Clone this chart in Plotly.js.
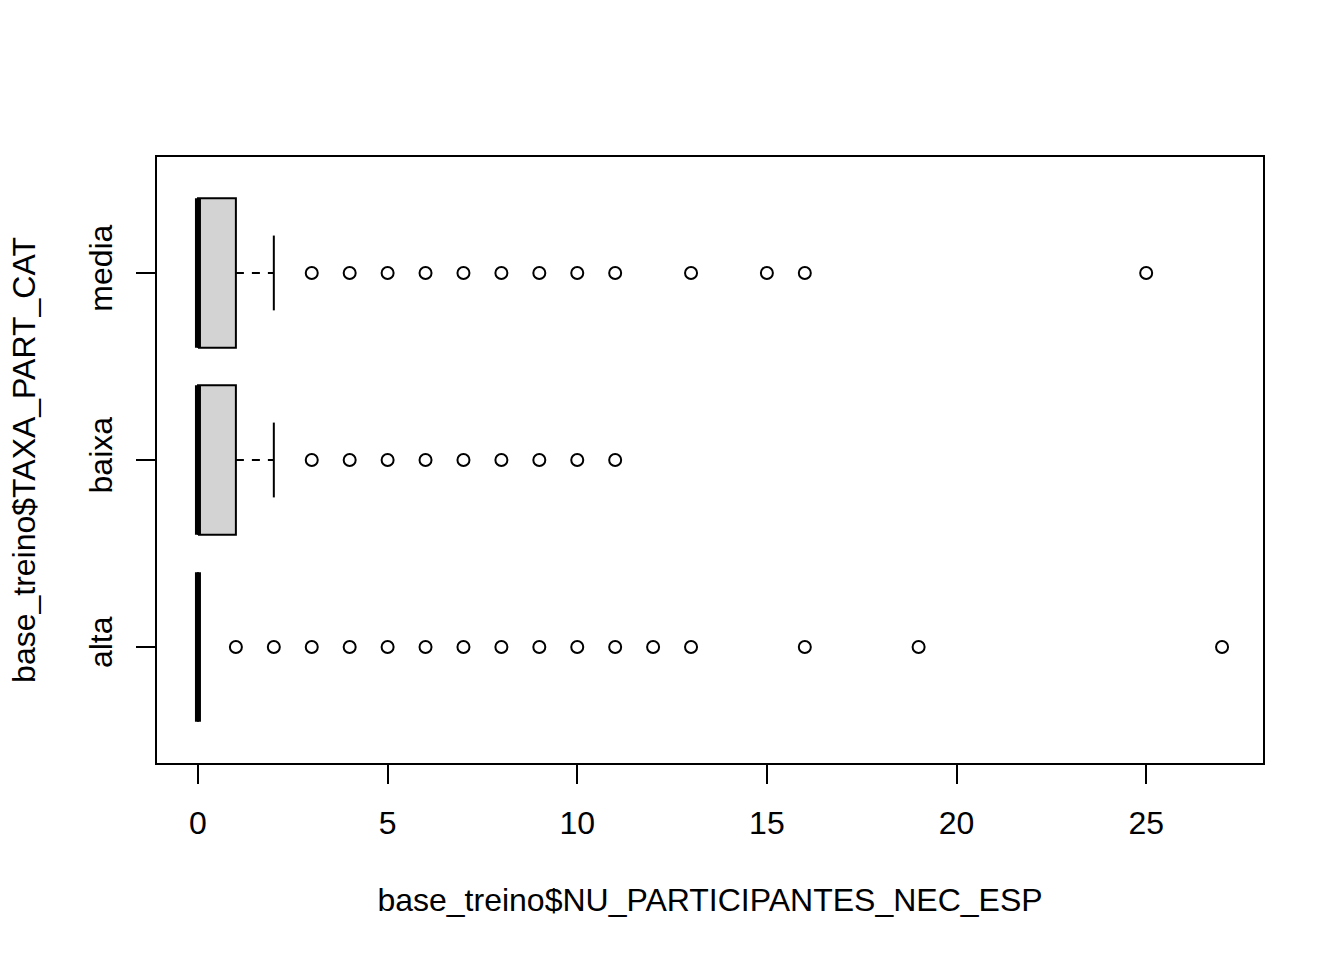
<!DOCTYPE html>
<html>
<head>
<meta charset="utf-8">
<script src="https://cdn.plot.ly/plotly-3.0.1.min.js"></script>
<style>html,body{margin:0;padding:0;background:#fff;}#chart{width:1344px;height:960px;}</style>
</head>
<body>
<div id="chart"></div>
<script>
// ---- data ----
var categories = ["alta", "baixa", "media"];
var q1 = [0, 0, 0];
var medians = [0, 0, 0];
var q3 = [0, 1, 1];
var whiskerLow = [0, 0, 0];
var whiskerHigh = [0, 2, 2];
var outliersAlta = [1, 2, 3, 4, 5, 6, 7, 8, 9, 10, 11, 12, 13, 16, 19, 27];
var outliersBaixa = [3, 4, 5, 6, 7, 8, 9, 10, 11];
var outliersMedia = [3, 4, 5, 6, 7, 8, 9, 10, 11, 13, 15, 16, 25];
var outliers = [outliersAlta, outliersBaixa, outliersMedia];
var xTicks = [0, 5, 10, 15, 20, 25];
var xTitle = "base_treino$NU_PARTICIPANTES_NEC_ESP";
var yTitle = "base_treino$TAXA_PART_CAT";

// ---- build traces ----
var halfW = 0.4, staple = 0.2;
var traces = [];
categories.forEach(function (c, k) {
  var p = k + 1;
  // box
  traces.push({type: "scatter", mode: "lines", x: [q1[k], q3[k], q3[k], q1[k], q1[k]],
    y: [p - halfW, p - halfW, p + halfW, p + halfW, p - halfW], fill: "toself",
    fillcolor: "#D3D3D3", line: {color: "black", width: 2}, hoverinfo: "skip"});
  // whiskers (dashed)
  traces.push({type: "scatter", mode: "lines", x: [q3[k], whiskerHigh[k]], y: [p, p],
    line: {color: "black", width: 2, dash: "8px,8px"}, hoverinfo: "skip"});
  traces.push({type: "scatter", mode: "lines", x: [q1[k], whiskerLow[k]], y: [p, p],
    line: {color: "black", width: 2, dash: "8px,8px"}, hoverinfo: "skip"});
  // staples
  traces.push({type: "scatter", mode: "lines", x: [whiskerHigh[k], whiskerHigh[k]], y: [p - staple, p + staple],
    line: {color: "black", width: 2}, hoverinfo: "skip"});
  traces.push({type: "scatter", mode: "lines", x: [whiskerLow[k], whiskerLow[k]], y: [p - staple, p + staple],
    line: {color: "black", width: 2}, hoverinfo: "skip"});
  // median
  traces.push({type: "scatter", mode: "lines", x: [medians[k], medians[k]], y: [p - halfW, p + halfW],
    line: {color: "black", width: 6}, hoverinfo: "skip"});
  // outliers
  traces.push({type: "scatter", mode: "markers", x: outliers[k], y: outliers[k].map(function () { return p; }),
    marker: {symbol: "circle-open", size: 12, color: "black", line: {width: 2, color: "black"}}, hoverinfo: "skip"});
});

var layout = {
  width: 1344, height: 960,
  margin: {l: 157, r: 81, t: 157, b: 197},
  paper_bgcolor: "white", plot_bgcolor: "white",
  showlegend: false,
  font: {family: "Liberation Sans, Arial, sans-serif", size: 32, color: "black"},
  xaxis: {
    range: [-1.08, 28.08], tickvals: xTicks, ticktext: xTicks.map(String),
    ticks: "outside", ticklen: 19, tickwidth: 2, tickcolor: "black", ticklabelstandoff: 12,
    showgrid: false, zeroline: false, showline: true, mirror: true, linecolor: "black", linewidth: 2,
    title: {text: xTitle, standoff: 48, font: {size: 32}}, automargin: false
  },
  yaxis: {
    range: [0.38, 3.62], tickvals: [1, 2, 3], ticktext: categories, tickangle: -90,
    ticks: "outside", ticklen: 19, tickwidth: 2, tickcolor: "black", ticklabelstandoff: 11,
    showgrid: false, zeroline: false, showline: true, mirror: true, linecolor: "black", linewidth: 2,
    title: {text: yTitle, standoff: 38, font: {size: 32}}, automargin: false
  }
};
Plotly.newPlot("chart", traces, layout, {staticPlot: true});
</script>
</body>
</html>
